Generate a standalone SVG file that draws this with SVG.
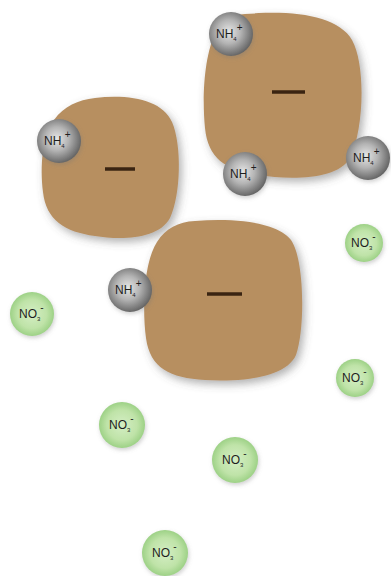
<svg xmlns="http://www.w3.org/2000/svg" width="391" height="576" viewBox="0 0 391 576">
  <defs>
    <radialGradient id="nh4Grad" cx="0.45" cy="0.45" r="0.6">
      <stop offset="0" stop-color="#e6e6e6"/>
      <stop offset="0.45" stop-color="#b4b4b4"/>
      <stop offset="1" stop-color="#5a5a5a"/>
    </radialGradient>
    <radialGradient id="no3Grad" cx="0.5" cy="0.5" r="0.55">
      <stop offset="0" stop-color="#d4eec4"/>
      <stop offset="0.6" stop-color="#bfe3a8"/>
      <stop offset="1" stop-color="#93cc7c"/>
    </radialGradient>
    <filter id="soilShadow" x="-20%" y="-20%" width="150%" height="150%">
      <feDropShadow dx="3" dy="4" stdDeviation="4" flood-color="#555" flood-opacity="0.45"/>
    </filter>
    <filter id="ionShadow" x="-30%" y="-30%" width="170%" height="170%">
      <feDropShadow dx="1" dy="2" stdDeviation="2" flood-color="#777" flood-opacity="0.35"/>
    </filter>
  </defs>
  <style>
    .soil { fill: #b78f61; filter: url(#soilShadow); }
    .minus { stroke: #3a2412; stroke-width: 3.5; stroke-linecap: butt; }
    .nh4 circle { fill: url(#nh4Grad); filter: url(#ionShadow); }
    .no3 circle { fill: url(#no3Grad); filter: url(#ionShadow); }
    .lbl { font-family: "Liberation Sans", Arial, sans-serif; fill: #1e1e1e; font-size: 12px; }
    .sub { font-size: 6px; }
    .sup { font-size: 10px; }
  </style>

  <!-- soil particles (negatively charged) -->
  <g id="particle-left">
    <path class="soil" d="M 95 98 C 130 94, 162 100, 172 122 C 182 145, 181 195, 170 218 C 158 240, 120 240, 95 236 C 65 232, 46 220, 43 192 C 40 165, 42 138, 54 120 C 64 106, 78 100, 95 98 Z"/>
    <line class="minus" x1="105" y1="169" x2="135" y2="169"/>
  </g>
  <g id="particle-top">
    <path class="soil" d="M 245 14 C 295 10, 338 16, 352 40 C 366 65, 364 130, 350 158 C 338 180, 290 180, 258 175 C 225 170, 208 158, 205 128 C 202 98, 204 55, 216 32 C 224 19, 232 15, 245 14 Z"/>
    <line class="minus" x1="272" y1="92" x2="305" y2="92"/>
  </g>
  <g id="particle-bottom">
    <path class="soil" d="M 195 221 C 235 218, 276 222, 291 240 C 305 260, 305 330, 296 355 C 286 378, 240 382, 205 380 C 170 378, 150 368, 146 338 C 142 308, 144 262, 157 242 C 166 228, 178 222, 195 221 Z"/>
    <line class="minus" x1="207" y1="294" x2="242" y2="294"/>
  </g>

  <!-- ammonium ions -->
  <g id="nh4-1" class="nh4" transform="translate(231,34)">
    <circle r="22"/>
    <text class="lbl" x="-15" y="4">NH<tspan class="sub" dy="3">4</tspan><tspan class="sup" dy="-10">+</tspan></text>
  </g>
  <g id="nh4-2" class="nh4" transform="translate(59,141)">
    <circle r="22"/>
    <text class="lbl" x="-15" y="4">NH<tspan class="sub" dy="3">4</tspan><tspan class="sup" dy="-10">+</tspan></text>
  </g>
  <g id="nh4-3" class="nh4" transform="translate(245,174)">
    <circle r="22"/>
    <text class="lbl" x="-15" y="4">NH<tspan class="sub" dy="3">4</tspan><tspan class="sup" dy="-10">+</tspan></text>
  </g>
  <g id="nh4-4" class="nh4" transform="translate(368,158)">
    <circle r="22"/>
    <text class="lbl" x="-15" y="4">NH<tspan class="sub" dy="3">4</tspan><tspan class="sup" dy="-10">+</tspan></text>
  </g>
  <g id="nh4-5" class="nh4" transform="translate(130,290)">
    <circle r="22"/>
    <text class="lbl" x="-15" y="4">NH<tspan class="sub" dy="3">4</tspan><tspan class="sup" dy="-10">+</tspan></text>
  </g>

  <!-- nitrate ions -->
  <g id="no3-1" class="no3" transform="translate(32,314)">
    <circle r="22"/>
    <text class="lbl" x="-13" y="4">NO<tspan class="sub" dy="3">3</tspan><tspan class="sup" dy="-10">-</tspan></text>
  </g>
  <g id="no3-2" class="no3" transform="translate(364,243)">
    <circle r="19"/>
    <text class="lbl" x="-13" y="4">NO<tspan class="sub" dy="3">3</tspan><tspan class="sup" dy="-10">-</tspan></text>
  </g>
  <g id="no3-3" class="no3" transform="translate(355,378)">
    <circle r="19"/>
    <text class="lbl" x="-13" y="4">NO<tspan class="sub" dy="3">3</tspan><tspan class="sup" dy="-10">-</tspan></text>
  </g>
  <g id="no3-4" class="no3" transform="translate(122,425)">
    <circle r="23"/>
    <text class="lbl" x="-13" y="4">NO<tspan class="sub" dy="3">3</tspan><tspan class="sup" dy="-10">-</tspan></text>
  </g>
  <g id="no3-5" class="no3" transform="translate(235,460)">
    <circle r="23"/>
    <text class="lbl" x="-13" y="4">NO<tspan class="sub" dy="3">3</tspan><tspan class="sup" dy="-10">-</tspan></text>
  </g>
  <g id="no3-6" class="no3" transform="translate(165,553)">
    <circle r="23"/>
    <text class="lbl" x="-13" y="4">NO<tspan class="sub" dy="3">3</tspan><tspan class="sup" dy="-10">-</tspan></text>
  </g>

  <!-- no connectors in this figure -->
  <g id="connectors"/>
</svg>
